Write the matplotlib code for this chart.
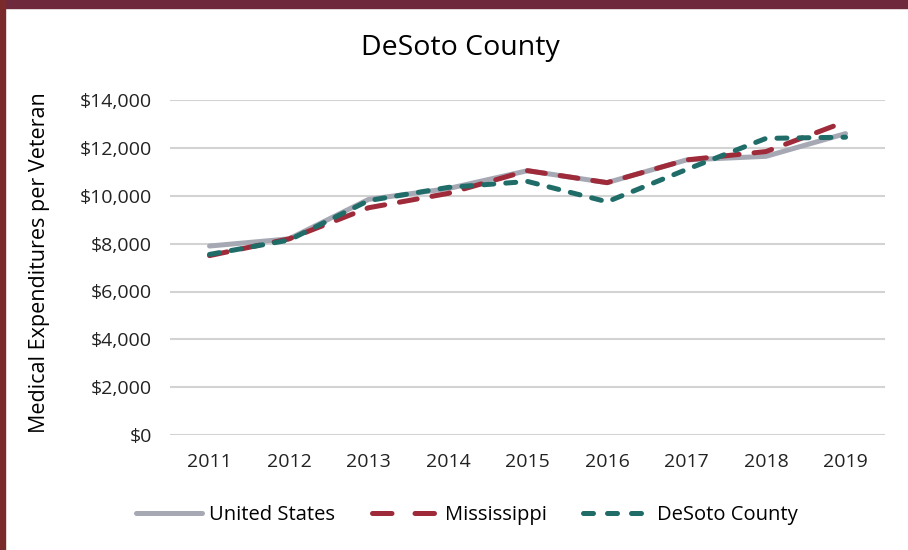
import numpy as np
import matplotlib.pyplot as plt
from matplotlib.patches import Rectangle

# data
years = ["2011", "2012", "2013", "2014", "2015", "2016", "2017", "2018", "2019"]
us = [7900, 8200, 9850, 10300, 11050, 10550, 11500, 11650, 12600]
mississippi = [7500, 8200, 9500, 10100, 11050, 10550, 11500, 11850, 13100]
desoto = [7550, 8150, 9800, 10350, 10600, 9750, 11100, 12400, 12450]
yticks = [0, 2000, 4000, 6000, 8000, 10000, 12000, 14000]

plt.rcParams['font.family'] = ['Open Sans', 'DejaVu Sans']

fig = plt.figure(figsize=(9.08, 5.5), dpi=100)
ax = fig.add_axes([0.187, 0.209, 0.788, 0.609])

x = np.arange(len(years))
ax.plot(x, us, color="#A6A9B4", lw=3.6, label="United States", solid_capstyle="round")
ax.plot(x, mississippi, color="#9E2A3A", lw=3.6, dashes=(3.6, 3.0),
        dash_capstyle="round", label="Mississippi")
ax.plot(x, desoto, color="#1F6C68", lw=3.6, dashes=(2.0, 2.4),
        dash_capstyle="round", label="DeSoto County")

ax.set_xlim(-0.5, len(years) - 0.5)
ax.set_ylim(0, 14000)
ax.set_yticks(yticks)
ax.set_yticklabels(["${:,}".format(v) for v in yticks])
ax.set_xticks(x)
ax.set_xticklabels(years)
ax.tick_params(length=0, labelsize=14, colors="#222222")
ax.tick_params(axis="y", pad=13)
ax.tick_params(axis="x", pad=13)
ax.grid(axis="y", color="#D3D3D3", lw=1.5)
ax.set_axisbelow(True)
for s in ax.spines.values():
    s.set_visible(False)

ax.set_ylabel("Medical Expenditures per Veteran", fontsize=15.5)
ax.yaxis.set_label_coords(-0.168, 0.515)
fig.text(0.507, 0.912, "DeSoto County", ha="center", va="center", fontsize=20.5)

leg = fig.legend(loc="center", bbox_to_anchor=(0.514, 0.063), ncol=3, frameon=False,
                 fontsize=14.5, handlelength=3.3, columnspacing=1.8, handletextpad=0.35)
# legend keys: two long dashes for Mississippi, three short ones for DeSoto
leg_lines = leg.get_lines()
leg_lines[1].set_dashes((3.9, 4.6))
leg_lines[2].set_dashes((2.0, 2.8))

# maroon frame on top and left edge
fig.patches.append(Rectangle((0, 1 - 8 / 550), 1, 8 / 550, transform=fig.transFigure,
                             color="#6E2A3C", zorder=0))
fig.patches.append(Rectangle((0, 0), 5 / 908, 1, transform=fig.transFigure,
                             color="#7A2A2A", zorder=0))

fig.savefig("out.png", dpi=100)
